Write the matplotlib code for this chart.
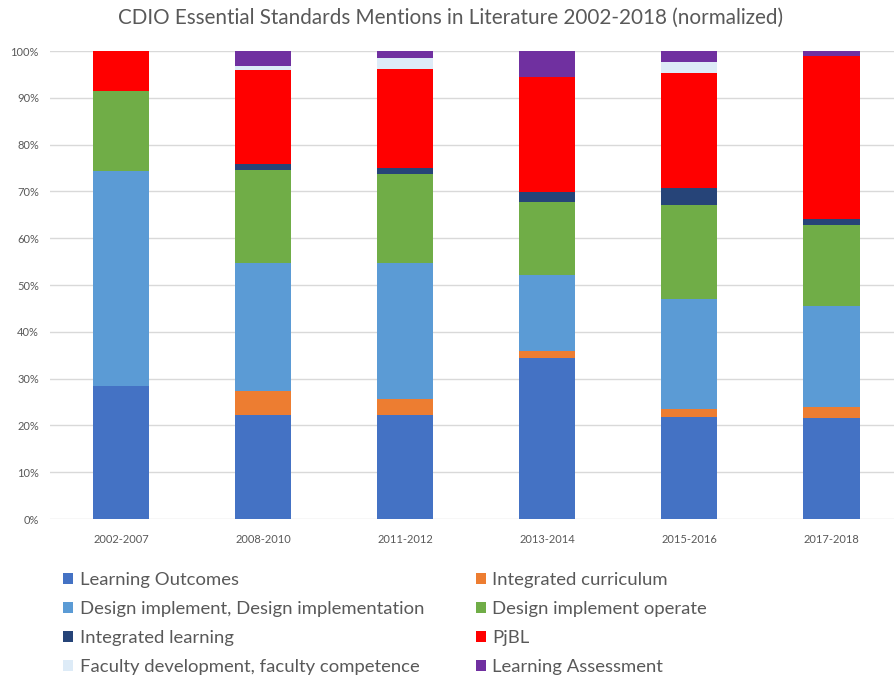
import matplotlib
matplotlib.use("Agg")
import matplotlib.pyplot as plt
import numpy as np

periods = ["2002-2007", "2008-2010", "2011-2012", "2013-2014", "2015-2016", "2017-2018"]
learning_outcomes = [28.4, 22.2, 22.2, 34.5, 21.9, 21.6]
integrated_curriculum = [0.0, 5.1, 3.5, 1.4, 1.5, 2.3]
design_implement = [46.0, 27.3, 28.9, 16.2, 23.6, 21.7]
design_implement_operate = [17.1, 20.0, 19.1, 15.6, 20.2, 17.3]
integrated_learning = [0.0, 1.3, 1.2, 2.2, 3.6, 1.2]
pjbl = [8.5, 20.0, 21.3, 24.5, 24.5, 34.9]
faculty_development = [0.0, 0.9, 2.4, 0.0, 2.3, 0.0]
learning_assessment = [0.0, 3.2, 1.4, 5.6, 2.4, 1.0]

series_names = ["Learning Outcomes", "Integrated curriculum",
                "Design implement, Design implementation", "Design implement operate",
                "Integrated learning", "PjBL",
                "Faculty development, faculty competence", "Learning Assessment"]
series_values = [learning_outcomes, integrated_curriculum, design_implement,
                 design_implement_operate, integrated_learning, pjbl,
                 faculty_development, learning_assessment]
colors = ["#4472C4", "#ED7D31", "#5B9BD5", "#70AD47", "#264478", "#FF0000", "#DDEBF7", "#7030A0"]

plt.rcParams['font.family'] = ['Lato', 'DejaVu Sans']
text_color = "#595959"

fig = plt.figure(figsize=(8.94, 6.75), dpi=100)
ax = fig.add_axes([50/894, 1 - 519/675, 844/894, 468/675])

x = np.arange(len(periods))
bottom = np.zeros(len(periods))
handles = []
for name, vals, c in zip(series_names, series_values, colors):
    vals = np.array(vals, dtype=float)
    h = ax.bar(x, vals, width=0.395, bottom=bottom, color=c, label=name, zorder=3)
    handles.append(h)
    bottom += vals

ax.set_xlim(-0.5, 5.44)
ax.set_ylim(0, 100)
ax.set_yticks(np.arange(0, 101, 10))
ax.set_yticklabels([f"{v}%" for v in range(0, 101, 10)])
ax.set_xticks(x)
ax.set_xticklabels(periods)
ax.tick_params(axis='both', length=0, labelsize=8, colors=text_color)
ax.tick_params(axis='x', pad=11)
ax.tick_params(axis='y', pad=8)
ax.grid(axis='y', color="#D9D9D9", linewidth=1, zorder=0)
for s in ax.spines.values():
    s.set_visible(False)

fig.text(451/894, 1 - 18/675, "CDIO Essential Standards Mentions in Literature 2002-2018 (normalized)",
         ha='center', va='center', fontsize=14.9, color=text_color)

order = [0, 2, 4, 6, 1, 3, 5, 7]
leg = fig.legend([handles[i] for i in order], [series_names[i] for i in order],
                 ncol=2, loc='upper left', bbox_to_anchor=(63/894, 1 - 572/675),
                 frameon=False, fontsize=13.3, handlelength=0.55, handleheight=0.55,
                 handletextpad=0.35, columnspacing=2.8, labelspacing=0.7,
                 labelcolor=text_color, borderaxespad=0, borderpad=0)

fig.savefig("out.png", dpi=100)
